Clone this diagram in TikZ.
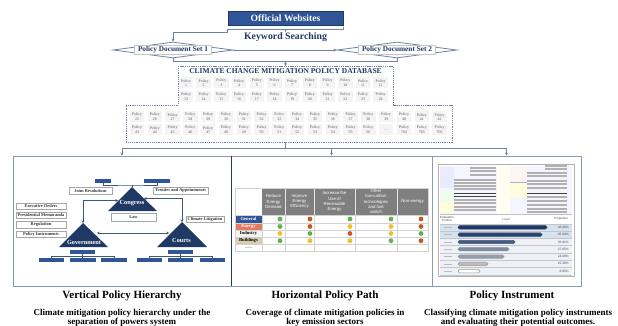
\documentclass[tikz,border=0pt]{standalone}
\usepackage{fontspec}
\setmainfont{Liberation Serif}
\setsansfont{Liberation Sans}
\usetikzlibrary{arrows.meta,shapes.geometric}
\definecolor{navy}{HTML}{1F3864}
\definecolor{midblue}{HTML}{2F5597}
\definecolor{lineblue}{HTML}{6F84A3}
\definecolor{panelline}{HTML}{8A9BB5}
\definecolor{hdrgray}{HTML}{7F7F7F}
\definecolor{gridgray}{HTML}{D3D3D3}
\definecolor{dgreen}{HTML}{62B04E}
\definecolor{dred}{HTML}{C55A22}
\definecolor{dyellow}{HTML}{F0C02C}
\definecolor{energyc}{HTML}{E27B5E}
\definecolor{buildc}{HTML}{D9CDB0}
\definecolor{industc}{HTML}{F3F3F3}
\definecolor{pb1}{HTML}{1F3864}
\definecolor{pb2}{HTML}{2A4570}
\definecolor{pb3}{HTML}{455C80}
\definecolor{pb4}{HTML}{7E8A9E}
\definecolor{pb5}{HTML}{959DAB}
\definecolor{pb6}{HTML}{BDBDBD}
\definecolor{pb7}{HTML}{FFFFFF}
\definecolor{bandA}{HTML}{D6E2F0}
\definecolor{bandB}{HTML}{EEF2F8}
\newcommand\fsz[2]{\fontsize{#1pt}{#2pt}\selectfont}
\newcommand\dotrow[6]{%
  \fill[#2] (280,#1) circle (2.4pt);
  \fill[#3] (310,#1) circle (2.4pt);
  \fill[#4] (350,#1) circle (2.4pt);
  \fill[#5] (391,#1) circle (2.4pt);
  \fill[#6] (421,#1) circle (2.4pt);}
\tikzset{
  conn/.style={draw=lineblue, line width=0.8pt},
  arr/.style={-{Stealth[length=3pt,width=3pt]}},
  darr/.style={{Stealth[length=2.6pt,width=2.6pt]}-{Stealth[length=2.6pt,width=2.6pt]}},
  pconn/.style={draw=navy!85, line width=0.6pt},
  webbox/.style={fill=midblue, draw=navy, line width=0.6pt, text=white, font=\fsz{9.6}{11}\bfseries, minimum width=115pt, minimum height=14pt, inner sep=0pt},
  kwtext/.style={text=navy, font=\fsz{9.8}{11}\bfseries, inner sep=0pt},
  pdiam/.style={diamond, aspect=7.5, draw=lineblue, line width=0.8pt, fill=white, minimum width=120pt, minimum height=16pt, inner sep=0pt},
  pdtext/.style={draw=gray!45, fill=white, line width=0.4pt, text=navy, font=\fsz{7.3}{8}\bfseries, inner sep=1pt, minimum width=77pt, minimum height=8pt},
  dbtitle/.style={text=navy, font=\fsz{7.5}{8}\bfseries, inner sep=0pt},
  cell/.style={fill=gray!9, text=black!65, font=\fsz{3.9}{4.7}, align=center, inner sep=0pt, minimum width=14.5pt, minimum height=11pt},
  panel/.style={draw=panelline, line width=0.8pt, inner sep=0pt},
  orgbar/.style={fill=midblue, inner sep=0pt, minimum height=4pt},
  lbl/.style={draw=gray!70, fill=white, line width=0.4pt, text=black!80, font=\fsz{4.4}{5}\bfseries, inner sep=0pt, minimum height=6.5pt},
  tritext/.style={text=white, font=\fsz{6.3}{7}\bfseries, inner sep=0pt},
  hdr/.style={text=white, font=\sffamily\fsz{4.3}{5.1}, align=center, inner sep=0pt},
  rowlbl/.style={font=\fsz{4.6}{5}\bfseries, inner sep=0pt},
  pbar/.style={rounded corners=1.6pt, line width=0.5pt},
  pct/.style={font=\sffamily\fsz{3.2}{3.6}, text=black!70, anchor=east, inner sep=0pt},
  tinytxt/.style={font=\sffamily\fsz{3}{3.4}, text=black!70, inner sep=0pt, align=center},
  captitle/.style={font=\fsz{11}{12}\bfseries, text=black, inner sep=0pt},
  capdesc/.style={font=\fsz{9}{9.5}\bfseries, text=black, align=center, inner sep=0pt},
}
\begin{document}
\begin{tikzpicture}[x=1pt,y=-1pt]
\useasboundingbox (0,0) rectangle (618,326);
\fill[white] (0,0) rectangle (618,326);

% ---------- top flow ----------
\node[webbox] (web) at (285.5,18) {Official Websites};
\draw[conn] ([yshift=-2pt]web.south east) -- ([yshift=-4.5pt]web.south east) -- ([yshift=-4.5pt]web.south west) -- ([yshift=-7pt]web.south west);
\draw[conn, arr] ([yshift=-4.5pt]web.south) -- ([yshift=-6.5pt]web.south);
\node[kwtext] (kw) at (285.5,37.5) {Keyword Searching};
\node[pdiam] (set1) at (173,50) {};
\node[pdtext] (set1t) at (set1.center) {Policy Document Set 1};
\node[pdiam] (set2) at (397,50) {};
\node[pdtext] (set2t) at (set2.center) {Policy Document Set 2};
\draw[conn, arr] ([yshift=-7pt]web.south west) -| (set1.north);
\draw[conn, arr] (set1.east) -- (set2.west);
\draw[conn] (set1.south) -- ++(0,3.5) -| (set2.south);
\coordinate (jn) at (285.5,61.5);
\coordinate (dbtop) at (285.5,66);
\draw[conn, arr] (jn) -- (dbtop);

% ---------- database ----------
\draw[draw=lineblue, line width=0.9pt, dash pattern=on 1.3pt off 0.9pt] (178,66) -- (393,66) -- (393,105) -- (452,105) -- (452,142) -- (126,142) -- (126,105) -- (178,105) -- cycle;
\node[dbtitle] (dbt) at (285.5,71.5) {CLIMATE CHANGE MITIGATION POLICY DATABASE};
\foreach \i in {1,...,12}{\node[cell] (q\i) at ({186+17.7*(\i-1)},83) {Policy\\\i};}
\foreach \i in {13,...,24}{\node[cell] (q\i) at ({186+17.7*(\i-13)},96.5) {Policy\\\i};}
\foreach \i in {25,...,42}{\node[cell] (q\i) at ({137+17.8*(\i-25)},117) {Policy\\\i};}
\foreach \i in {43,...,56}{\node[cell] (q\i) at ({137+17.8*(\i-43)},130) {Policy\\\i};}
\node[cell] (qdots) at ({137+17.8*14},130) {\dots};
\foreach \i [count=\k from 15] in {704,705,706}{\node[cell] (q\i) at ({137+17.8*\k},130) {Policy\\\i};}

\coordinate (dbbot) at (285.5,142);
\coordinate (hub) at (285.5,148.5);
\draw[conn] (dbbot) -- (hub);

% ---------- panels ----------
\node[panel, minimum width=218pt, minimum height=130pt] (p1) at (122,221) {};
\node[panel, minimum width=201pt, minimum height=130pt] (p2) at (331.5,221) {};
\node[panel, minimum width=149pt, minimum height=130pt] (p3) at (506.5,221) {};
\draw[conn, arr] (hub) -| (p1.north);
\draw[conn, arr] (hub) -| (p2.north);
\draw[conn, arr] (hub) -| (p3.north);
\draw[navy, line width=1pt] (p1.north east) -- (p1.south east);

% ---------- panel 1 : hierarchy ----------
\node[orgbar, minimum width=16pt] (tb1) at (103,181) {};
\node[orgbar, minimum width=26pt] (tb2) at (157,181) {};
\coordinate (tj) at (132,185);
\coordinate (congA) at (132,187);
\draw[pconn] (tb1.south) |- (tj) -| (tb2.south);
\draw[pconn] (tj) -- (congA);
\fill[navy] (132,187) -- (108,211) -- (157,211) -- cycle;
\node[tritext] (cong) at (132,203.5) {Congress};
\fill[navy] (83,223) -- (59,247) -- (108,247) -- cycle;
\node[tritext] (gov) at (84,242.5) {Government};
\fill[navy] (182,222) -- (157,247) -- (207,247) -- cycle;
\node[tritext] (court) at (181.5,240.5) {Courts};
\node[lbl, minimum width=43pt] (jr) at (90.5,190.5) {Joint Resolutions};
\node[lbl, minimum width=55pt] (ta) at (180.5,190.5) {Treaties and Appointments};
\node[lbl, minimum width=45pt, minimum height=8pt] (law) at (133.5,217) {Law};
\node[lbl, minimum width=50pt] (eo) at (41,206) {Executive Orders};
\node[lbl, minimum width=50pt] (pm) at (41,215) {Presidential Memoranda};
\node[lbl, minimum width=50pt] (rg) at (41,224.5) {Regulation};
\node[lbl, minimum width=50pt] (pi) at (41,234) {Policy Instruments};
\node[lbl, minimum width=38pt] (cl) at (205,219) {Climate Litigation};
\coordinate (congL) at (118,200.5);
\coordinate (govA) at (83,223);
\coordinate (congR) at (144,198.5);
\coordinate (courtA) at (182,222);
\coordinate (govR) at (97,233);
\coordinate (courtL) at (169,233);
\draw[pconn, darr] (congL) -| (govA);
\draw[pconn, darr] (congR) -| (courtA);
\draw[pconn, darr] (govR) -- (courtL);
% org charts
\node[orgbar, minimum width=25pt] (g0) at (82.5,252) {};
\node[orgbar, minimum width=25pt] (g1) at (51,260) {};
\node[orgbar, minimum width=26pt] (g2) at (82.5,260) {};
\node[orgbar, minimum width=26pt] (g3) at (114,260) {};
\draw[pconn] (g0.south) -- ++(0,2) coordinate (gj);
\draw[pconn] (gj) -| (g1.north);
\draw[pconn] (gj) -| (g3.north);
\draw[pconn] (gj) -- (g2.north);
\node[orgbar, minimum width=25pt] (c0) at (180.5,252) {};
\node[orgbar, minimum width=25pt] (c1) at (149,260) {};
\node[orgbar, minimum width=25pt] (c2) at (180.5,260) {};
\node[orgbar, minimum width=25pt] (c3) at (212,260) {};
\draw[pconn] (c0.south) -- ++(0,2) coordinate (cj);
\draw[pconn] (cj) -| (c1.north);
\draw[pconn] (cj) -| (c3.north);
\draw[pconn] (cj) -- (c2.north);

% ---------- panel 2 : table ----------
\fill[hdrgray] (262,188) rectangle (428,215);
\foreach \x in {285,314,355,397}{\draw[white!80!gray, line width=0.5pt] (\x,188) -- (\x,215);}
\fill[midblue] (235,215) rectangle (262,223);
\fill[energyc] (235,223) rectangle (262,230);
\fill[industc] (235,230) rectangle (262,237);
\fill[buildc] (235,237) rectangle (262,244.5);
\foreach \y in {215,223,230,237,244.5}{\draw[gridgray, line width=0.5pt] (235,\y) -- (428,\y);}
\foreach \x in {262,285,314,355,397}{\draw[gridgray, line width=0.5pt] (\x,215) -- (\x,251);}
\draw[gridgray, line width=0.6pt] (235,188) rectangle (428,251);
\node[hdr] (h1) at (273.5,201.5) {Reduce\\Energy\\Demand};
\node[hdr] (h2) at (299.5,201.5) {Improve\\Energy\\Efficiency};
\node[hdr] (h3) at (334.5,201.5) {Increase the\\Use of\\Renewable\\Energy};
\node[hdr] (h4) at (376,201.5) {Other\\low-carbon\\technologies\\and fuel\\switch};
\node[hdr] (h5) at (412.5,201.5) {Non-energy};
\node[rowlbl, text=white] (r1) at (248.5,219) {General};
\node[rowlbl, text=white] (r2) at (248.5,226.5) {Energy};
\node[rowlbl, text=black] (r3) at (248.5,233.5) {Industry};
\node[rowlbl, text=black] (r4) at (248.5,240.75) {Buildings};
\draw[gray!40, line width=0.6pt] (245,247.75) -- (252,247.75);
\dotrow{219}{dgreen}{dred}{dgreen}{dgreen}{dred}
\dotrow{226.5}{dgreen}{dred}{dyellow}{dyellow}{dred}
\dotrow{233.5}{dyellow}{dgreen}{dred}{dyellow}{dgreen}
\dotrow{240.75}{dgreen}{dyellow}{dyellow}{dgreen}{dred}

% ---------- panel 3 : instruments ----------
\fill[white!96!blue] (440,166) rectangle (572,214);
\fill[blue!8] (440,167) rectangle (454,188);
\fill[green!8] (440,190) rectangle (454,200);
\fill[yellow!15] (440,202) rectangle (454,212);
\fill[yellow!6] (497,166) rectangle (510,214);
\fill[red!4] (510,166) rectangle (527,180);
\fill[yellow!14] (510,182) rectangle (527,197);
\foreach \y in {168,171,175}{\draw[gray!60, line width=1.1pt] (470,\y) -- (496,\y);}
\foreach \y in {180,183,186,189,200,203,207,210}{\draw[gray!60, line width=1.1pt] (454,\y) -- (496,\y);}
\foreach \y in {193,196}{\draw[black!75, line width=0.9pt] (454,\y) -- (496,\y);}
\foreach \y in {166,169}{\draw[gray!60, line width=1.1pt] (545,\y) -- (567,\y);}
\foreach \y in {173,176,181,184,188,197,201,205,209,212}{\draw[gray!60, line width=1.1pt] (527,\y) -- (567,\y);}
\draw[black!75, line width=0.9pt] (527,193) -- (567,193);
\draw[gray!60, line width=1pt] (510,182) -- (527,182);
\draw[gray!50, line width=0.5pt] (440,214) -- (572,214);
\node[tinytxt] (ec) at (447,219) {Evaluation\\Criteria};
\node[tinytxt] (lv) at (506,219) {Level};
\node[tinytxt] (pp) at (561,219) {Proportion};
\foreach \k in {0,1}{\fill[bandA] (440,{223.7+7.3*\k}) rectangle (572,{231+7.3*\k});}
\foreach \k in {2,...,6}{\fill[bandB] (440,{223.7+7.3*\k}) rectangle (572,{231+7.3*\k});}
\foreach \k in {0,...,7}{\draw[gray!45, line width=0.4pt] (440,{223.7+7.3*\k}) -- (572,{223.7+7.3*\k});}
\foreach \xe/\dc/\pc [count=\k from 0] in {547/pb1/48.88, 542/pb2/45.84, 515/pb3/36.91, 509/pb4/27.85, 504/pb5/24.88, 488/gray!80/15.38, 480/gray!80/8.85}{
  \draw[pbar, fill=pb\the\numexpr\k+1\relax, draw=\dc] (458,{227.35+7.3*\k-1.7}) rectangle (\xe,{227.35+7.3*\k+1.7});
  \draw[gray!55, line width=0.5pt] (444,{227.35+7.3*\k}) -- (452,{227.35+7.3*\k});
  \node[pct] at (569,{227.35+7.3*\k}) {\pc\%};
}
\draw[gray!60, line width=0.6pt] (438,164) rectangle (574,276);

% ---------- captions ----------
\node[captitle] (t1) at (122,296) {Vertical Policy Hierarchy};
\node[captitle] (t2) at (325,296) {Horizontal Policy Path};
\node[captitle] (t3) at (512,296) {Policy Instrument};
\node[capdesc] (d1) at (122,318) {Climate mitigation policy hierarchy under the\\separation of powers system};
\node[capdesc] (d2) at (325,318) {Coverage of climate mitigation policies in\\key emission sectors};
\node[capdesc] (d3) at (518,318) {Classifying climate mitigation policy instruments\\and evaluating their potential outcomes.};
\end{tikzpicture}
\end{document}
